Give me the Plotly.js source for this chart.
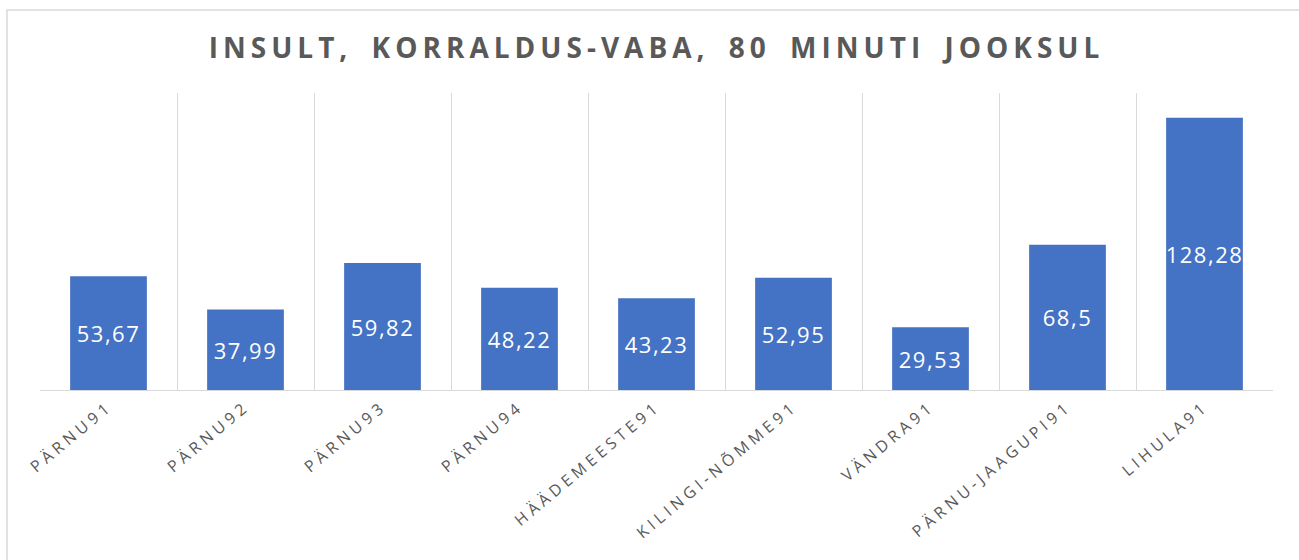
<!DOCTYPE html>
<html>
<head>
<meta charset="utf-8">
<script src="https://cdn.plot.ly/plotly-3.0.1.min.js"></script>
<style>
html, body { margin: 0; padding: 0; background: #fff; }
#chart { width: 1299px; height: 560px; }
.xtick text { letter-spacing: 4.2px; }
.gtitle { letter-spacing: 5px; word-spacing: 7px; }
text.bartext { letter-spacing: 1.5px; }
</style>
</head>
<body>
<div id="chart"></div>
<script>
const categories = ["PÄRNU91", "PÄRNU92", "PÄRNU93", "PÄRNU94", "HÄÄDEMEESTE91", "KILINGI-NÕMME91", "VÄNDRA91", "PÄRNU-JAAGUPI91", "LIHULA91"];
const values = [53.67, 37.99, 59.82, 48.22, 43.23, 52.95, 29.53, 68.5, 128.28];
const chartTitle = "INSULT, KORRALDUS-VABA, 80 MINUTI JOOKSUL";

const labels = values.map(v => String(v).replace(".", ","));

const trace = {
  type: "bar",
  x: categories,
  y: values,
  text: labels,
  textposition: "inside",
  insidetextanchor: "middle",
  textangle: 0,
  constraintext: "none",
  textfont: { family: "Open Sans, sans-serif", size: 22, color: "#ffffff" },
  marker: { color: "#4472C4" },
  hoverinfo: "x+y"
};

const L = 40, R = 26, T = 93, B = 170, W = 1299, H = 560;
const pw = W - L - R, ph = H - T - B;

const layout = {
  width: W, height: H,
  margin: { l: L, r: R, t: T, b: B, pad: 0 },
  paper_bgcolor: "#ffffff",
  plot_bgcolor: "#ffffff",
  showlegend: false,
  bargap: 0.44,
  title: {
    text: "<b>" + chartTitle + "</b>",
    x: 0.5, xanchor: "center", xref: "paper",
    y: 1 - 48 / H, yanchor: "middle", yref: "container",
    font: { family: "Open Sans, sans-serif", size: 28, color: "#595959" }
  },
  xaxis: {
    type: "category",
    tickson: "boundaries",
    showgrid: true,
    gridcolor: "#d9d9d9",
    gridwidth: 1,
    showline: true,
    linecolor: "#d9d9d9",
    linewidth: 1,
    ticks: "",
    tickangle: -40,
    tickfont: { family: "Open Sans, sans-serif", size: 16, color: "#595959" },
    automargin: false
  },
  yaxis: {
    range: [0, 140],
    visible: false,
    showgrid: false,
    zeroline: false,
    fixedrange: true
  },
  shapes: [
    {
      type: "rect", xref: "paper", yref: "paper",
      x0: (7 - L) / pw, x1: (1320 - L) / pw,
      y0: (H - B - 600) / ph, y1: (H - B - 10) / ph,
      line: { color: "#d9d9d9", width: 1.5 },
      fillcolor: "rgba(0,0,0,0)",
      layer: "below"
    }
  ]
};

Plotly.newPlot("chart", [trace], layout, { displayModeBar: false, staticPlot: true });
</script>
</body>
</html>
